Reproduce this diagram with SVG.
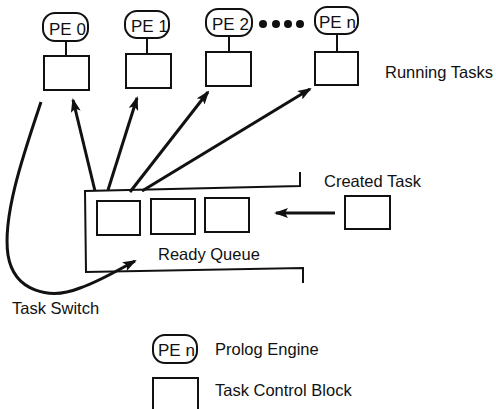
<svg xmlns="http://www.w3.org/2000/svg" width="496" height="409" viewBox="0 0 496 409">
<defs>
<style>
.pe{fill:#fff;stroke:#111;stroke-width:2}
.box{fill:#fff;stroke:#111;stroke-width:2}
.ln{fill:none;stroke:#111;stroke-width:2}
.arr{fill:none;stroke:#111;stroke-width:3}
.pt{font-family:"Liberation Sans",Arial,sans-serif;font-size:17px;fill:#111}
.lb{font-family:"Liberation Sans",Arial,sans-serif;font-size:16.5px;fill:#111}
</style>
<marker id="ah" viewBox="0 0 14 10" refX="12" refY="5" markerWidth="14" markerHeight="10" markerUnits="userSpaceOnUse" orient="auto">
<path d="M0,0 L14,5 L0,10 L3,5 Z" fill="#111"/>
</marker>
</defs>
<rect width="496" height="409" fill="#fff"/>

<g id="pe0">
<rect class="pe" x="43" y="13" width="45" height="28" rx="12"/>
<text class="pt" x="49" y="35">PE 0</text>
<line class="ln" x1="66" y1="41" x2="66" y2="56"/>
<rect class="box" x="44" y="56" width="45" height="34"/>
</g>
<g id="pe1">
<rect class="pe" x="125" y="11" width="44" height="27" rx="12"/>
<text class="pt" x="131" y="32">PE 1</text>
<line class="ln" x1="147" y1="38" x2="147" y2="54"/>
<rect class="box" x="126" y="54" width="45" height="34"/>
</g>
<g id="pe2">
<rect class="pe" x="206" y="9" width="46" height="27" rx="12"/>
<text class="pt" x="212" y="30">PE 2</text>
<line class="ln" x1="229" y1="36" x2="229" y2="52"/>
<rect class="box" x="206" y="52" width="45" height="34"/>
</g>
<g id="dots">
<circle cx="263" cy="24" r="4" fill="#111"/>
<circle cx="276" cy="24" r="4" fill="#111"/>
<circle cx="288" cy="24" r="4" fill="#111"/>
<circle cx="300" cy="24" r="4" fill="#111"/>
</g>
<g id="pen">
<rect class="pe" x="315" y="7" width="43" height="27" rx="12"/>
<text class="pt" x="319" y="28">PE n</text>
<line class="ln" x1="337" y1="34" x2="337" y2="52"/>
<rect class="box" x="315" y="52" width="43" height="33"/>
</g>
<text class="lb" x="385" y="78">Running Tasks</text>

<g id="ready-queue">
<polyline class="ln" points="300,172 300,186 85,191 86,272 303,268 303,283"/>
<rect class="box" x="97" y="201" width="43" height="34"/>
<rect class="box" x="151" y="199" width="44" height="35"/>
<rect class="box" x="205" y="198" width="44" height="34"/>
<text class="lb" x="158" y="260">Ready Queue</text>
</g>

<g id="created-task">
<text class="lb" x="324" y="187">Created Task</text>
<rect class="box" x="345" y="196" width="45" height="33"/>
</g>

<g id="connectors">
<line class="arr" x1="95" y1="191" x2="73" y2="100" marker-end="url(#ah)"/>
<line class="arr" x1="108" y1="190" x2="137" y2="98" marker-end="url(#ah)"/>
<line class="arr" x1="130" y1="192" x2="208" y2="92" marker-end="url(#ah)"/>
<line class="arr" x1="142" y1="191" x2="310" y2="89" marker-end="url(#ah)"/>
<line class="arr" x1="335" y1="213" x2="276" y2="213" marker-end="url(#ah)"/>
<path class="arr" d="M41,102 C25,150 2,215 8,255 C14,292 50,300 80,288 C100,281 118,270 135,261" marker-end="url(#ah)"/>
</g>
<text class="lb" x="12" y="314">Task Switch</text>

<g id="legend">
<rect class="pe" x="153" y="335" width="44" height="28" rx="12"/>
<text class="pt" x="158" y="356">PE n</text>
<text class="lb" x="215" y="355">Prolog Engine</text>
<rect class="box" x="153" y="378" width="45" height="36"/>
<text class="lb" x="215" y="396">Task Control Block</text>
</g>
</svg>
